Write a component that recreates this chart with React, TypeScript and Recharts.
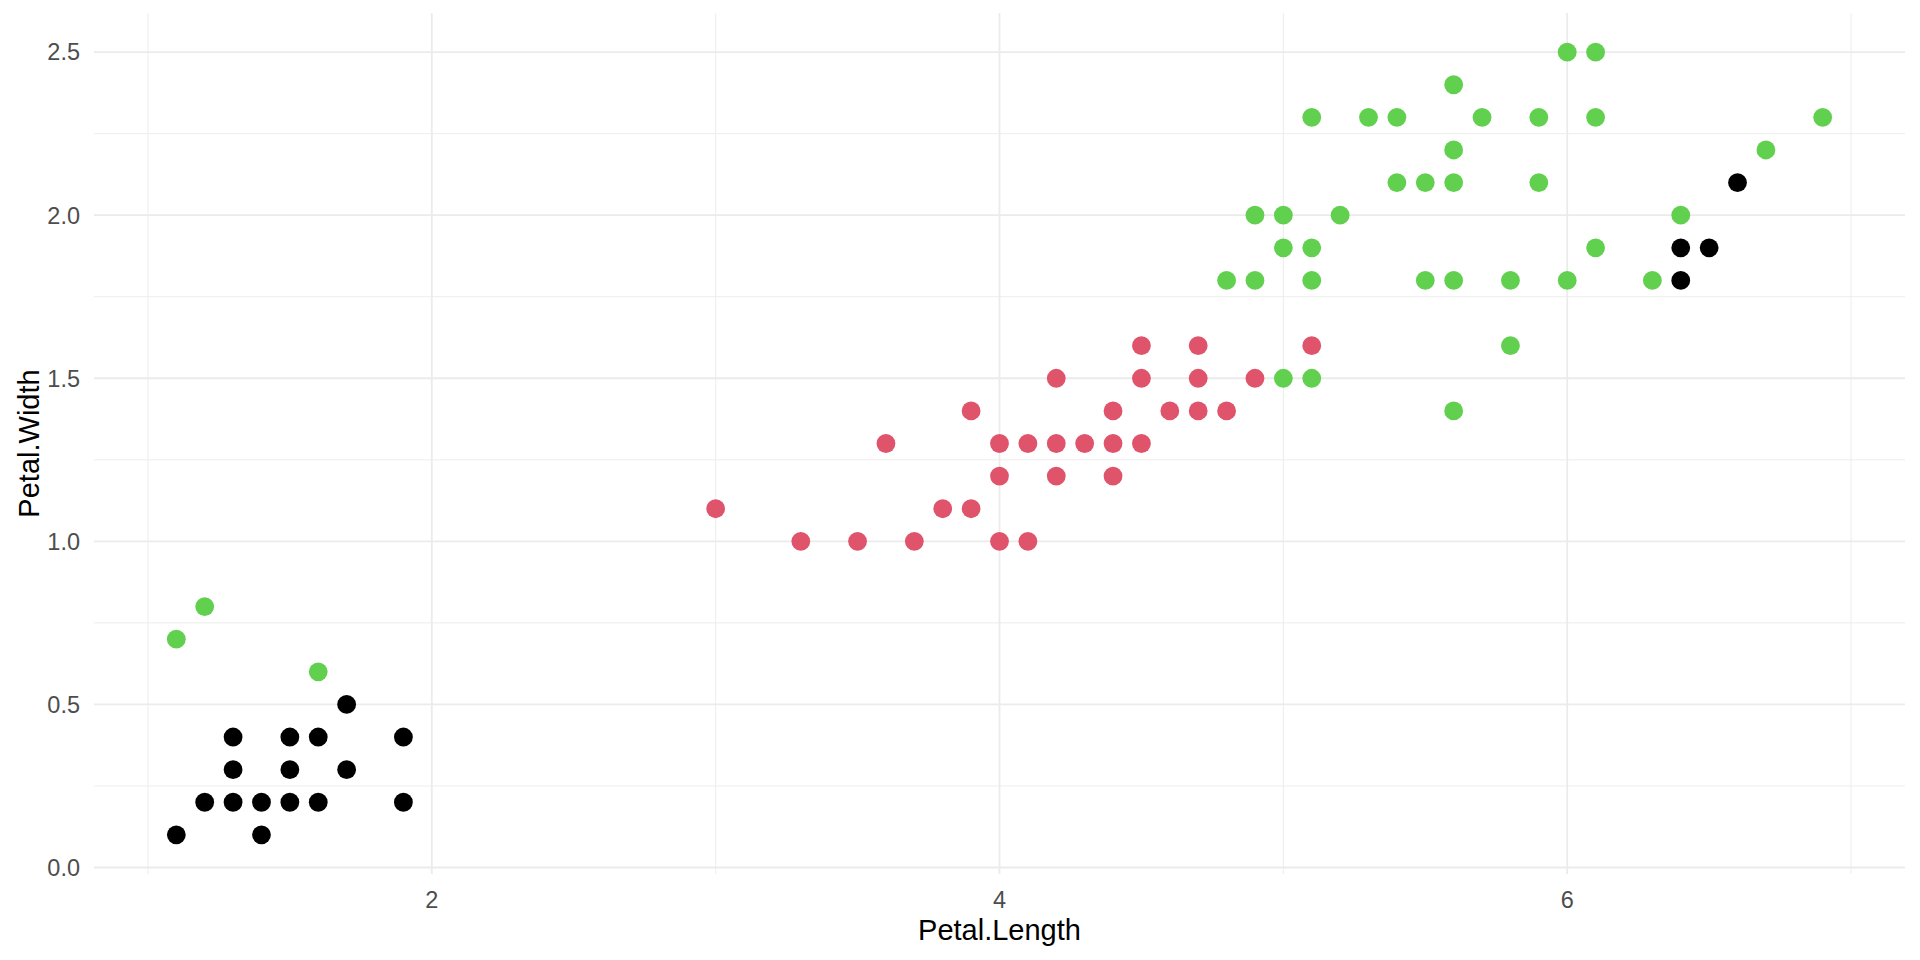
import React from "react";
import {
  ScatterChart,
  Scatter,
  XAxis,
  YAxis,
  ReferenceLine,
} from "recharts";

// cluster 1 (black)
const c1Length = [1.1, 1.4, 1.2, 1.3, 1.4, 1.5, 1.6, 1.9, 1.3, 1.5, 1.7, 1.3, 1.5, 1.6, 1.9, 1.7, 6.4, 6.4, 6.5, 6.6];
const c1Width = [0.1, 0.1, 0.2, 0.2, 0.2, 0.2, 0.2, 0.2, 0.3, 0.3, 0.3, 0.4, 0.4, 0.4, 0.4, 0.5, 1.8, 1.9, 1.9, 2.1];

// cluster 2 (red)
const c2Length = [3.3, 3.5, 3.7, 4.0, 4.1, 3.0, 3.8, 3.9, 4.0, 4.2, 4.4, 3.6, 4.0, 4.1, 4.2, 4.3, 4.4, 4.5, 3.9, 4.4, 4.6, 4.7, 4.8, 4.2, 4.5, 4.7, 4.9, 4.5, 4.7, 5.1];
const c2Width = [1.0, 1.0, 1.0, 1.0, 1.0, 1.1, 1.1, 1.1, 1.2, 1.2, 1.2, 1.3, 1.3, 1.3, 1.3, 1.3, 1.3, 1.3, 1.4, 1.4, 1.4, 1.4, 1.4, 1.5, 1.5, 1.5, 1.5, 1.6, 1.6, 1.6];

// cluster 3 (green)
const c3Length = [1.1, 1.2, 1.6, 5.6, 5.0, 5.1, 5.8, 4.8, 4.9, 5.1, 5.5, 5.6, 5.8, 6.0, 6.3, 5.0, 5.1, 6.1, 4.9, 5.0, 5.2, 6.4, 5.4, 5.5, 5.6, 5.9, 5.6, 6.7, 5.1, 5.3, 5.4, 5.7, 5.9, 6.1, 6.9, 5.6, 6.0, 6.1];
const c3Width = [0.7, 0.8, 0.6, 1.4, 1.5, 1.5, 1.6, 1.8, 1.8, 1.8, 1.8, 1.8, 1.8, 1.8, 1.8, 1.9, 1.9, 1.9, 2.0, 2.0, 2.0, 2.0, 2.1, 2.1, 2.1, 2.1, 2.2, 2.2, 2.3, 2.3, 2.3, 2.3, 2.3, 2.3, 2.3, 2.4, 2.5, 2.5];

const xTicks = [2, 4, 6];
const xMinor = [1, 3, 5, 7];
const yTicks = [0, 0.5, 1.0, 1.5, 2.0, 2.5];
const yMinor = [0.25, 0.75, 1.25, 1.75, 2.25];

const COLORS = ["#000000", "#DF536B", "#61D04F"];
const GRID = "#EBEBEB";
const FONT = "'Liberation Sans', Arial, sans-serif";

const toPoints = (xs: number[], ys: number[]) => xs.map((x, i) => ({ x, y: ys[i] }));

const series = [
  toPoints(c1Length, c1Width),
  toPoints(c2Length, c2Width),
  toPoints(c3Length, c3Width),
];

const dot = (color: string) => (props: any) => (
  <circle cx={props.cx} cy={props.cy} r={9.4} fill={color} />
);

export default function App() {
  return (
    <div style={{ position: "absolute", left: 0, top: 0, background: "#fff", fontFamily: FONT }}>
      <ScatterChart width={1920} height={960} margin={{ top: 13, right: 15, bottom: 0, left: 0 }}>
        <XAxis
          type="number"
          dataKey="x"
          domain={[0.81, 7.19]}
          ticks={xTicks}
          allowDataOverflow
          height={86}
          axisLine={false}
          tickLine={false}
          tickSize={0}
          tickMargin={17}
          tick={{ fill: "#4D4D4D", fontSize: 23.5, fontFamily: FONT }}
          label={{
            value: "Petal.Length",
            position: "insideBottom",
            offset: 20,
            style: { fill: "#000", fontSize: 29, fontFamily: FONT },
          }}
        />
        <YAxis
          type="number"
          dataKey="y"
          domain={[-0.02, 2.62]}
          ticks={yTicks}
          tickFormatter={(v: number) => v.toFixed(1)}
          allowDataOverflow
          width={94}
          axisLine={false}
          tickLine={false}
          tickSize={0}
          tickMargin={14}
          tick={{ fill: "#4D4D4D", fontSize: 23.5, fontFamily: FONT }}
          label={{
            value: "Petal.Width",
            angle: -90,
            position: "insideLeft",
            offset: 29,
            style: { fill: "#000", fontSize: 29, fontFamily: FONT, textAnchor: "middle" },
          }}
        />
        {xMinor.map((v) => (
          <ReferenceLine key={"xm" + v} x={v} stroke={GRID} strokeWidth={0.9} />
        ))}
        {yMinor.map((v) => (
          <ReferenceLine key={"ym" + v} y={v} stroke={GRID} strokeWidth={0.9} />
        ))}
        {xTicks.map((v) => (
          <ReferenceLine key={"x" + v} x={v} stroke={GRID} strokeWidth={1.8} />
        ))}
        {yTicks.map((v) => (
          <ReferenceLine key={"y" + v} y={v} stroke={GRID} strokeWidth={1.8} />
        ))}
        {series.map((d, i) => (
          <Scatter key={i} data={d} fill={COLORS[i]} shape={dot(COLORS[i])} isAnimationActive={false} />
        ))}
      </ScatterChart>
    </div>
  );
}
